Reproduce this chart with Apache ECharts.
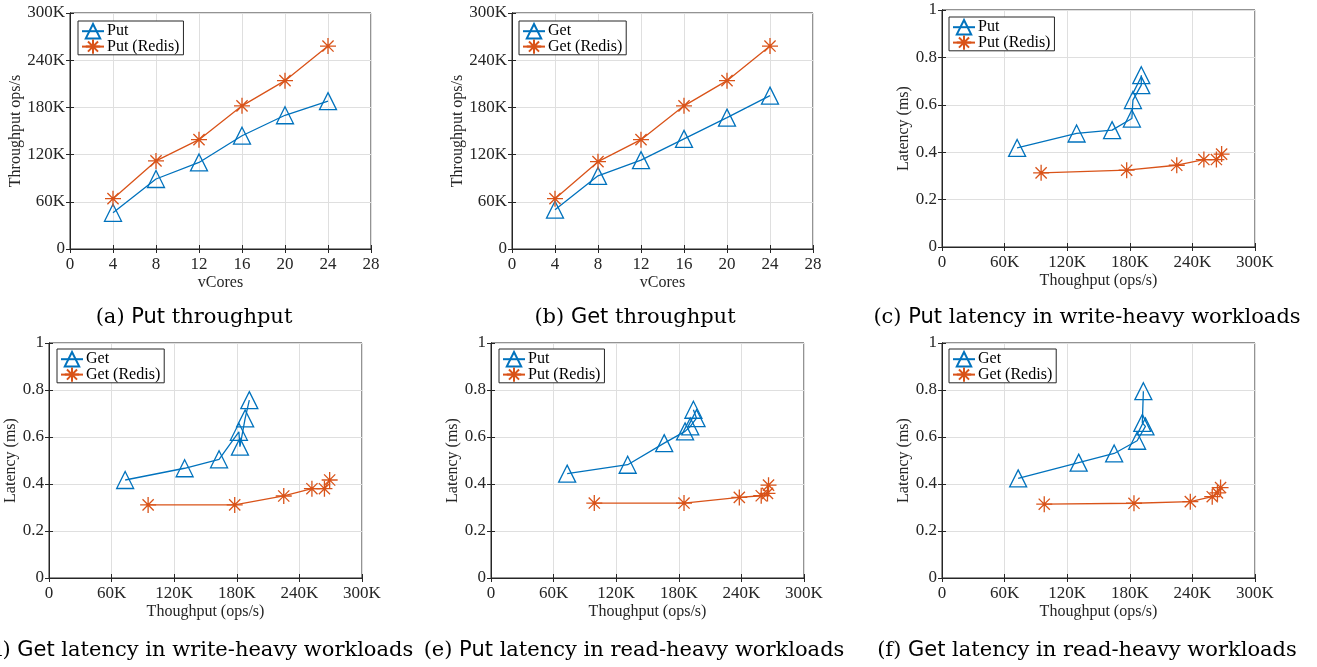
<!DOCTYPE html>
<html>
<head>
<meta charset="utf-8">
<script src="https://cdn.jsdelivr.net/npm/echarts@6/dist/echarts.min.js"></script>
<style>
  html, body { margin: 0; padding: 0; background: #fff; }
  #main { width: 1317px; height: 667px; }
</style>
</head>
<body>
<div id="main"></div>
<script>
// throughput vs vCores (K ops/s)
const cores = [4, 8, 12, 16, 20, 24]
const putTput = [46, 89, 110, 144, 170, 188]
const putRedisTput = [64, 112, 139, 182, 214, 258]
const getTput = [50, 93, 113, 140, 167, 195]
const getRedisTput = [64, 111, 139, 182, 214, 258]

// latency (ms) vs throughput (K ops/s)
const wPutX = [72, 129, 163, 182, 183, 191, 191]
const wPutY = [0.418, 0.479, 0.493, 0.542, 0.62, 0.683, 0.725]
const wPutRedisX = [95, 177, 225, 251, 263, 268]
const wPutRedisY = [0.313, 0.324, 0.345, 0.369, 0.369, 0.392]

const wGetX = [73, 130, 163, 182, 183, 188, 192]
const wGetY = [0.417, 0.467, 0.505, 0.622, 0.559, 0.679, 0.757]
const wGetRedisX = [95, 178, 225, 252, 264, 269]
const wGetRedisY = [0.311, 0.311, 0.349, 0.38, 0.38, 0.417]

const rPutX = [73, 131, 166, 186, 191, 197, 194]
const rPutY = [0.444, 0.482, 0.574, 0.624, 0.645, 0.68, 0.716]
const rPutRedisX = [99, 185, 238, 259, 265, 266]
const rPutRedisY = [0.319, 0.319, 0.343, 0.35, 0.36, 0.395]

const rGetX = [73, 131, 165, 187, 195, 192, 193]
const rGetY = [0.424, 0.491, 0.53, 0.584, 0.645, 0.66, 0.795]
const rGetRedisX = [98, 184, 238, 259, 264, 267]
const rGetRedisY = [0.314, 0.318, 0.325, 0.346, 0.362, 0.385]

const BLUE = '#0072BD'
const ORANGE = '#D95319'
const SERIF = 'Liberation Serif'
const STAR = 'path://M5,0L5,10M0,5L10,5M1.5,1.5L8.5,8.5M1.5,8.5L8.5,1.5'

const panels = [
  { grid: { left: 70, top: 13, width: 301, height: 236 }, kind: 'tput', names: ['Put', 'Put (Redis)'],
    a: [cores, putTput], b: [cores, putRedisTput], legend: [78, 21] },
  { grid: { left: 512, top: 13, width: 301, height: 236 }, kind: 'tput', names: ['Get', 'Get (Redis)'],
    a: [cores, getTput], b: [cores, getRedisTput], legend: [519, 21] },
  { grid: { left: 942, top: 10, width: 313, height: 237 }, kind: 'lat', names: ['Put', 'Put (Redis)'],
    a: [wPutX, wPutY], b: [wPutRedisX, wPutRedisY], legend: [949, 17] },
  { grid: { left: 49, top: 343, width: 313, height: 235 }, kind: 'lat', names: ['Get', 'Get (Redis)'],
    a: [wGetX, wGetY], b: [wGetRedisX, wGetRedisY], legend: [57, 349] },
  { grid: { left: 491, top: 343, width: 313, height: 235 }, kind: 'lat', names: ['Put', 'Put (Redis)'],
    a: [rPutX, rPutY], b: [rPutRedisX, rPutRedisY], legend: [499, 349] },
  { grid: { left: 942, top: 343, width: 313, height: 235 }, kind: 'lat', names: ['Get', 'Get (Redis)'],
    a: [rGetX, rGetY], b: [rGetRedisX, rGetRedisY], legend: [949, 349] }
]

const kLabel = v => (v === 0 ? '0' : v + 'K')

function zip (xs, ys) {
  return xs.map((x, i) => [x, ys[i]])
}

const labelStyle = { fontFamily: SERIF, fontSize: 17, color: '#262626' }
const nameStyle = { fontFamily: SERIF, fontSize: 16, color: '#262626' }

const grids = []
const xAxes = []
const yAxes = []
const series = []
const legends = []

panels.forEach((p, i) => {
  grids.push(Object.assign({ show: true, borderColor: '#262626', borderWidth: 1, backgroundColor: '#fff' }, p.grid))
  const tput = p.kind === 'tput'
  const common = {
    gridIndex: i,
    type: 'value',
    axisLine: { show: true, lineStyle: { color: '#262626', width: 1 } },
    axisTick: { show: true, inside: true, length: 4, lineStyle: { color: '#262626' } }
  }
  const xRange = tput ? { min: 0, max: 28, interval: 4 } : { min: 0, max: 300, interval: 60 }
  const yRange = tput ? { min: 0, max: 300, interval: 60 } : { min: 0, max: 1, interval: 0.2 }
  xAxes.push(Object.assign({}, common, xRange, {
    position: 'bottom',
    name: tput ? 'vCores' : 'Thoughput (ops/s)',
    nameLocation: 'middle',
    nameGap: 26,
    nameTextStyle: nameStyle,
    axisLabel: Object.assign({ margin: 7, formatter: tput ? null : kLabel }, labelStyle),
    splitLine: { show: true, lineStyle: { color: '#dfdfdf' } }
  }))
  xAxes.push(Object.assign({}, common, xRange, {
    position: 'top', axisLabel: { show: false }, splitLine: { show: false }
  }))
  yAxes.push(Object.assign({}, common, yRange, {
    position: 'left',
    name: tput ? 'Throughput ops/s' : 'Latency (ms)',
    nameLocation: 'middle',
    nameGap: tput ? 46 : 29,
    nameTextStyle: nameStyle,
    axisLabel: Object.assign({ margin: 5, formatter: tput ? kLabel : null }, labelStyle),
    splitLine: { show: true, lineStyle: { color: '#dfdfdf' } }
  }))
  yAxes.push(Object.assign({}, common, yRange, {
    position: 'right', axisLabel: { show: false }, splitLine: { show: false }
  }))

  series.push({
    name: p.names[0],
    type: 'line',
    xAxisIndex: i * 2,
    yAxisIndex: i * 2,
    data: zip(p.a[0], p.a[1]),
    symbol: 'triangle',
    symbolSize: 17,
    lineStyle: { color: BLUE, width: 1.3 },
    itemStyle: { color: 'transparent', borderColor: BLUE, borderWidth: 1.3 }
  })
  series.push({
    name: p.names[1],
    type: 'line',
    xAxisIndex: i * 2,
    yAxisIndex: i * 2,
    data: zip(p.b[0], p.b[1]),
    symbol: STAR,
    symbolSize: 16,
    lineStyle: { color: ORANGE, width: 1.3 },
    itemStyle: { color: 'transparent', borderColor: ORANGE, borderWidth: 1.3 }
  })

  legends.push({
    data: p.names,
    orient: 'vertical',
    left: p.legend[0],
    top: p.legend[1],
    itemWidth: 22,
    itemHeight: 18,
    itemGap: -1,
    padding: [2, 4, 0, 3],
    backgroundColor: '#fff',
    borderColor: '#262626',
    borderWidth: 1,
    borderRadius: 0,
    selectedMode: false,
    textStyle: { fontFamily: SERIF, fontSize: 16, color: '#000', padding: [0, 0, 0, -2] }
  })
})

function caption (x, y, tag, word, rest) {
  return {
    type: 'text',
    x: x,
    y: y,
    style: {
      text: '{s|' + tag + ' }{p|' + word + '}{s| ' + rest + '}',
      align: 'center',
      verticalAlign: 'middle',
      rich: {
        s: { fontFamily: 'DejaVu Serif', fontSize: 21, fill: '#000' },
        p: { fontFamily: 'DejaVu Sans', fontSize: 21, fill: '#000' }
      }
    }
  }
}

const chart = echarts.init(document.getElementById('main'))
chart.setOption({
  animation: false,
  backgroundColor: '#fff',
  grid: grids,
  xAxis: xAxes,
  yAxis: yAxes,
  legend: legends,
  series: series,
  graphic: [
    caption(194, 318, '(a)', 'Put', 'throughput'),
    caption(635, 318, '(b)', 'Get', 'throughput'),
    caption(1087, 318, '(c)', 'Put', 'latency in write-heavy workloads'),
    caption(197, 651, '(d)', 'Get', 'latency in write-heavy workloads'),
    caption(634, 651, '(e)', 'Put', 'latency in read-heavy workloads'),
    caption(1087, 651, '(f)', 'Get', 'latency in read-heavy workloads')
  ]
})
</script>
</body>
</html>
